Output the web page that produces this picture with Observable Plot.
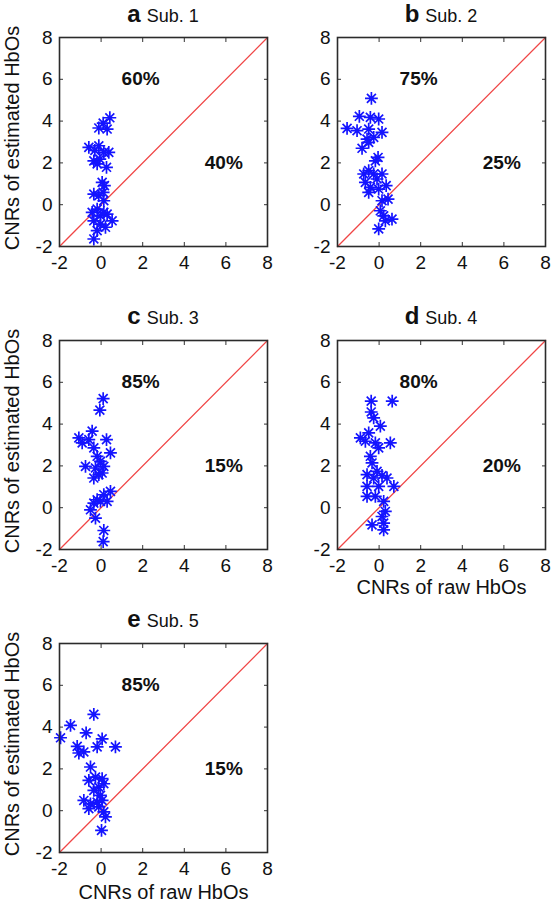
<!DOCTYPE html>
<html><head><meta charset="utf-8">
<script src="https://cdn.jsdelivr.net/npm/d3@7"></script>
<script src="https://cdn.jsdelivr.net/npm/@observablehq/plot@0.6"></script>
<style>
body{margin:0;background:#fff;}
#wrap{position:relative;width:551px;height:904px;font-family:"Liberation Sans",Arial,sans-serif;overflow:hidden;}
.panel{position:absolute;}
.ttl{position:absolute;width:208px;text-align:center;font-size:18px;line-height:27px;color:#111;white-space:nowrap;}
.ttl b{font-size:24px;margin-right:6px;}
</style></head><body><div id="wrap"></div>
<script>
// ---- data ----
const letters = ["a", "b", "c", "d", "e"];
const subjects = ["Sub. 1", "Sub. 2", "Sub. 3", "Sub. 4", "Sub. 5"];
const upperPct = ["60%", "75%", "85%", "80%", "85%"];
const lowerPct = ["40%", "25%", "15%", "20%", "15%"];
const axisTicks = [-2, 0, 2, 4, 6, 8];
const diagonal = [-2, 8];
const xTitle = "CNRs of raw HbOs";
const yTitle = "CNRs of estimated HbOs";

const sub1X = [0.42, -0.11, 0.10, 0.29, -0.59, -0.11, -0.30, 0.13, 0.37, -0.35, -0.06, -0.19, 0.26, 0.05, 0.16, -0.35, -0.11, 0.10, 0.13, -0.43, -0.19, -0.03, 0.29, 0.53, -0.35, -0.03, 0.21, -0.19, -0.35, 0.13];
const sub1Y = [4.16, 3.67, 3.90, 3.62, 2.74, 2.82, 2.60, 2.50, 2.50, 2.10, 2.18, 1.95, 1.79, 1.07, 0.91, 0.51, 0.43, 0.59, 0.19, -0.37, -0.21, -0.53, -0.45, -0.77, -0.77, -0.93, -1.08, -1.24, -1.64, -0.37];

const sub2X = [-0.37, -0.95, -0.42, -0.02, -1.54, -1.06, -0.50, 0.14, -0.58, -0.26, -0.82, -0.50, -0.05, -0.18, -0.74, -0.50, -0.26, 0.14, -0.66, -0.10, -0.42, 0.34, -0.50, -0.02, 0.43, 0.14, 0.06, 0.22, 0.62, 0.30, -0.02];
const sub2Y = [5.09, 4.23, 4.18, 4.10, 3.65, 3.54, 3.62, 3.46, 3.14, 3.22, 2.70, 2.98, 2.26, 2.10, 1.47, 1.63, 1.47, 1.47, 1.07, 1.23, 0.83, 0.91, 0.59, 0.75, 0.27, 0.19, -0.29, -0.53, -0.69, -0.77, -1.16];

const sub3X = [0.10, -0.06, -1.07, -0.91, -0.43, 0.26, -0.59, -0.35, 0.45, -0.75, -0.19, -0.03, 0.13, -0.27, -0.11, -0.35, 0.05, 0.45, 0.13, -0.19, -0.35, -0.03, 0.29, -0.51, -0.27, 0.13, 0.10];
const sub3Y = [5.22, 4.67, 3.34, 3.10, 3.66, 3.26, 3.26, 2.86, 2.62, 1.98, 2.46, 2.22, 1.98, 1.90, 1.58, 1.42, 1.66, 0.78, 0.62, 0.38, 0.22, 0.30, 0.30, -0.10, -0.50, -1.09, -1.62];

const sub4X = [-0.38, 0.63, -0.38, -0.26, 0.06, -0.90, -0.50, -0.18, 0.54, -0.66, -0.02, -0.42, -0.34, -0.58, -0.10, 0.14, -0.26, 0.38, -0.58, -0.02, 0.71, -0.58, -0.18, 0.22, 0.30, 0.14, -0.34, 0.22, 0.22];
const sub4Y = [5.10, 5.10, 4.58, 4.30, 3.90, 3.34, 3.58, 3.10, 3.10, 3.18, 2.86, 2.46, 2.14, 1.58, 1.74, 1.54, 1.42, 1.42, 1.02, 1.02, 1.02, 0.54, 0.54, 0.30, -0.18, -0.42, -0.82, -0.74, -1.06];

const sub5X = [-0.35, -1.47, -1.95, -0.72, 0.05, -1.15, -0.19, 0.69, -1.07, -0.83, -0.51, -0.27, 0.05, -0.59, -0.11, 0.13, -0.35, -0.03, -0.83, -0.51, -0.19, 0.05, -0.59, -0.11, 0.13, 0.21, 0.02];
const sub5Y = [4.61, 4.08, 3.49, 3.72, 3.44, 3.08, 3.05, 3.05, 2.76, 2.81, 2.09, 1.61, 1.53, 1.45, 1.13, 1.29, 0.97, 0.73, 0.49, 0.33, 0.41, 0.49, 0.10, 0.18, -0.06, -0.30, -0.94];

const seriesX = [sub1X, sub2X, sub3X, sub4X, sub5X];
const seriesY = [sub1Y, sub2Y, sub3Y, sub4Y, sub5Y];

// ---- layout ----
const layout = [
  {left: 0,   top: 0,   height: 300, titleTop: 0,   yLab: true,  xLab: false},
  {left: 278, top: 0,   height: 300, titleTop: 0,   yLab: false, xLab: false},
  {left: 0,   top: 303, height: 300, titleTop: 302, yLab: true,  xLab: false},
  {left: 278, top: 303, height: 300, titleTop: 302, yLab: false, xLab: true, xLabDy: 30},
  {left: 0,   top: 606, height: 298, titleTop: 605, yLab: true,  xLab: true, xLabDy: 32}
];
const ML = 59, MT = 37, PW = 208, PH = 209;

const asterisk = {
  draw(ctx, size) {
    const r = Math.sqrt(size / Math.PI);
    const d = r * 0.7;
    ctx.moveTo(-r, 0); ctx.lineTo(r, 0);
    ctx.moveTo(0, -r); ctx.lineTo(0, r);
    ctx.moveTo(-d, -d); ctx.lineTo(d, d);
    ctx.moveTo(-d, d); ctx.lineTo(d, -d);
  }
};

const fmt = d => String(d);
const blank = () => "";
const wrap = document.getElementById("wrap");

layout.forEach((L, i) => {
  const pts = seriesX[i].map((x, j) => ({x, y: seriesY[i][j]}));
  const chart = Plot.plot({
    width: ML + PW + 6,
    height: L.height,
    marginLeft: ML, marginTop: MT, marginRight: 6, marginBottom: L.height - MT - PH,
    style: {fontFamily: '"Liberation Sans", Arial, sans-serif', fontSize: "19px", color: "#111", background: "transparent", overflow: "visible"},
    x: {domain: [-2, 8]},
    y: {domain: [-2, 8]},
    marks: [
      Plot.line(diagonal, {x: d => d, y: d => d, stroke: "#f04646", strokeWidth: 1.3}),
      Plot.dot(pts, {x: "x", y: "y", symbol: asterisk, r: 6.4, stroke: "#1414ff", fill: "none", strokeWidth: 1.7}),
      Plot.text([upperPct[i]], {x: 1.9, y: 6, text: d => d, fontWeight: "bold", fontSize: 19, fill: "#111"}),
      Plot.text([lowerPct[i]], {x: 5.9, y: 2, text: d => d, fontWeight: "bold", fontSize: 19, fill: "#111"}),
      Plot.axisX(axisTicks, {anchor: "bottom", tickSize: 0, tickPadding: 9, tickFormat: fmt, label: null, fontSize: 19}),
      Plot.axisY(axisTicks, {anchor: "left", tickSize: 0, tickPadding: 7, tickFormat: fmt, label: null, fontSize: 19}),
      Plot.axisX(axisTicks, {anchor: "bottom", tickSize: 4, dy: -4, tickFormat: blank, label: null, stroke: "#333"}),
      Plot.axisX(axisTicks, {anchor: "top", tickSize: 4, dy: 4, tickFormat: blank, label: null, stroke: "#333"}),
      Plot.axisY(axisTicks, {anchor: "left", tickSize: 4, dx: 4, tickFormat: blank, label: null, stroke: "#333"}),
      Plot.axisY(axisTicks, {anchor: "right", tickSize: 4, dx: -4, tickFormat: blank, label: null, stroke: "#333"}),
      Plot.frame({stroke: "#2b2b2b", strokeWidth: 1.6}),
      L.yLab ? Plot.text([yTitle], {text: d => d, frameAnchor: "left", textAnchor: "middle", rotate: -90, dx: -55, dy: -4, lineAnchor: "top", fontSize: 20, fill: "#111"}) : null,
      L.xLab ? Plot.text([xTitle], {text: d => d, frameAnchor: "bottom", textAnchor: "middle", dy: L.xLabDy, lineAnchor: "top", fontSize: 20, fill: "#111"}) : null
    ]
  });
  const box = document.createElement("div");
  box.className = "panel";
  box.style.left = L.left + "px";
  box.style.top = L.top + "px";
  box.appendChild(chart);
  wrap.appendChild(box);

  const t = document.createElement("div");
  t.className = "ttl";
  t.style.left = (L.left + ML) + "px";
  t.style.top = L.titleTop + "px";
  const b = document.createElement("b");
  b.textContent = letters[i];
  t.appendChild(b);
  t.appendChild(document.createTextNode(subjects[i]));
  wrap.appendChild(t);
});
</script>
</body></html>
